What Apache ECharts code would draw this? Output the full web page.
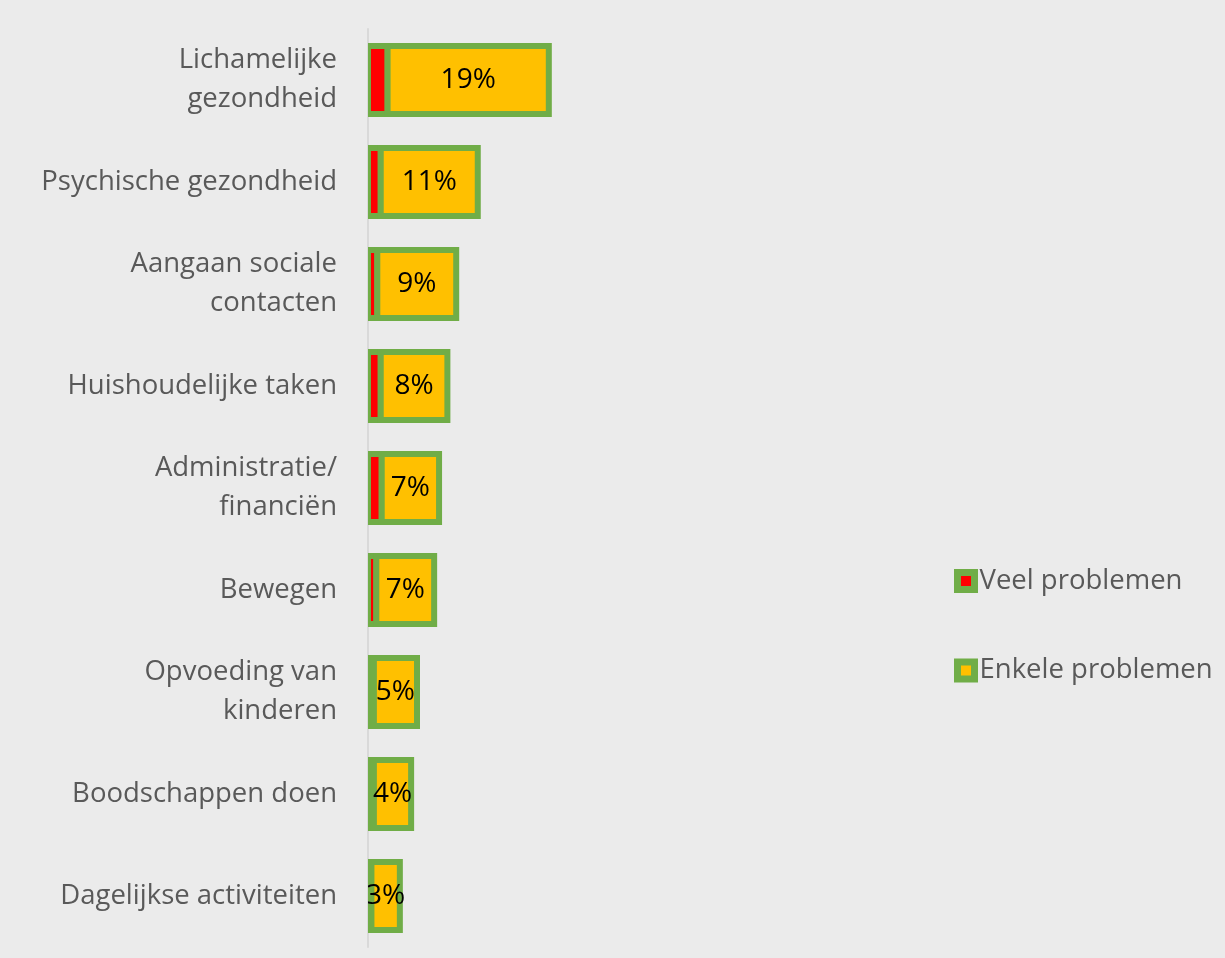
<!DOCTYPE html>
<html>
<head>
<meta charset="utf-8">
<script src="https://cdn.jsdelivr.net/npm/echarts@6/dist/echarts.min.js"></script>
<style>
  html, body { margin: 0; padding: 0; background: #ebebeb; }
  #main { width: 1225px; height: 958px; }
</style>
</head>
<body>
<div id="main"></div>
<script>
// categorieën, van boven naar beneden
var categories = [
  'Lichamelijke\ngezondheid',
  'Psychische gezondheid',
  'Aangaan sociale\ncontacten',
  'Huishoudelijke taken',
  'Administratie/\nfinanciën',
  'Bewegen',
  'Opvoeding van\nkinderen',
  'Boodschappen doen',
  'Dagelijkse activiteiten'
];
var veelProblemen = [2.0, 1.3, 0.95, 1.3, 1.4, 0.85, 0.6, 0.6, 0.35];
var enkeleProblemen = [16.45, 9.9, 8.05, 6.8, 5.85, 5.9, 4.4, 3.8, 2.9];
var totaalLabels = ['19%', '11%', '9%', '8%', '7%', '7%', '5%', '4%', '3%'];

var myChart = echarts.init(document.getElementById('main'));

var green = '#70ad47';
var font = 'Open Sans';

// gestapelde rijen: [begin, eind, categorie-index]
var veelData = categories.map(function (c, i) {
  return [0, veelProblemen[i], i];
});
var enkeleData = categories.map(function (c, i) {
  return [veelProblemen[i], veelProblemen[i] + enkeleProblemen[i], i];
});

// Excel-achtige balk: rand gecentreerd op de rand van het segment
function balk(withLabel) {
  return function (params, api) {
    var s = api.coord([api.value(0), api.value(2)]);
    var e = api.coord([api.value(1), api.value(2)]);
    var h = api.size([0, 1])[1] * 0.667;
    var el = {
      type: 'rect',
      shape: { x: s[0], y: s[1] - h / 2, width: e[0] - s[0], height: h },
      style: api.style()
    };
    if (withLabel) {
      el.textContent = {
        style: {
          text: totaalLabels[params.dataIndex],
          fontSize: 28,
          fontFamily: font,
          fill: '#000000'
        }
      };
      el.textConfig = { position: 'inside' };
    }
    return el;
  };
}

myChart.setOption({
  backgroundColor: '#ebebeb',
  textStyle: { fontFamily: font },
  grid: { left: 368, right: 367, top: 29, bottom: 11 },
  legend: {
    orient: 'vertical',
    left: 954,
    top: 566,
    padding: 0,
    itemWidth: 17,
    itemHeight: 17,
    itemGap: 59.5,
    icon: 'rect',
    itemStyle: { borderWidth: 7 },
    textStyle: { fontSize: 27.5, lineHeight: 30, color: '#595959', padding: [0, 0, 0, 0] },
    data: ['Veel problemen', 'Enkele problemen']
  },
  xAxis: {
    type: 'value',
    min: 0,
    max: 50,
    show: false,
    splitLine: { show: false }
  },
  yAxis: {
    type: 'category',
    inverse: true,
    data: categories,
    axisLine: { show: true, lineStyle: { color: '#d9d9d9', width: 2 } },
    axisTick: { show: false },
    axisLabel: {
      fontSize: 27.5,
      color: '#595959',
      margin: 31,
      lineHeight: 39,
      align: 'right'
    }
  },
  series: [
    {
      name: 'Veel problemen',
      type: 'custom',
      clip: true,
      renderItem: balk(false),
      encode: { x: [0, 1], y: 2 },
      data: veelData,
      itemStyle: { color: '#ff0000', borderColor: green, borderWidth: 6 }
    },
    {
      name: 'Enkele problemen',
      type: 'custom',
      clip: true,
      renderItem: balk(true),
      encode: { x: [0, 1], y: 2 },
      data: enkeleData,
      itemStyle: { color: '#ffc000', borderColor: green, borderWidth: 6 }
    }
  ]
});
</script>
</body>
</html>
